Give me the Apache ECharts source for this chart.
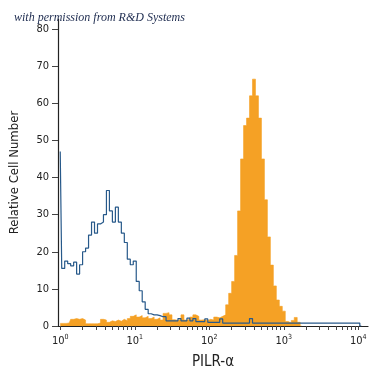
<!DOCTYPE html>
<html>
<head>
<meta charset="utf-8">
<script src="https://cdn.jsdelivr.net/npm/echarts@6/dist/echarts.min.js"></script>
<style>
html,body{margin:0;padding:0;background:#fff;}
#chart{width:375px;height:375px;}
</style>
</head>
<body>
<div id="chart"></div>
<script>
// Histogram channels: log10(PILR-α fluorescence), regular bins
const binStart = 0;
const binWidth = 0.04;

// Isotype control (blue outline)
const isotypeCounts = [
  47, 15.5, 17.5, 16.8, 16.2, 17.2, 14, 16.5, 20, 21,
  24.5, 28, 25, 27.5, 28, 30, 36.5, 31, 28, 32,
  28, 25, 22.5, 18, 16.5, 17.5, 12, 9.5, 6.5, 4.5,
  3.3, 3.0, 3.0, 2.8, 2.5, 2.5, 1.4, 1.4, 1.4, 1.4,
  2.0, 1.4, 1.4, 2.1, 1.4, 2.0, 1.2, 1.2, 1.2, 1.9,
  1.0, 1.0, 1.0, 1.0, 1.9, 0.8, 0.8, 0.8, 0.8, 0.8,
  0.8, 0.8, 0.8, 0.8, 2.0, 0.8, 0.8, 0.8, 0.8, 0.8,
  0.8, 0.8, 0.8, 0.8, 0.8, 0.8, 0.8, 0.8, 0.8, 0.8,
  0.8, 0.8, 0.8, 0.8, 0.8, 0.8, 0.8, 0.8, 0.8, 0.8,
  0.8, 0.8, 0.8, 0.8, 0.8, 0.8, 0.8, 0.8, 0.8, 0.8,
  0.8, 0
];

// Anti-PILR-α stained cells (orange filled)
const stainedCounts = [
  0.7, 0.7, 0.7, 0.8, 1.8, 2.0, 1.8, 2.0, 1.6, 0.6,
  0.6, 0.6, 0.6, 0.8, 1.8, 1.6, 1.0, 1.4, 1.2, 1.6,
  1.3, 1.8, 1.4, 2.0, 2.6, 3.0, 2.4, 2.8, 2.2, 2.6,
  2.0, 2.4, 1.8, 2.2, 1.6, 3.4, 3.6, 3.0, 1.7, 1.5,
  1.8, 3.0, 1.6, 1.8, 2.4, 3.0, 2.6, 1.6, 1.7, 1.5,
  1.8, 1.6, 2.4, 2.2, 2.6, 3.0, 5.7, 8.8, 12, 19,
  31, 45, 54, 56, 62, 66.5, 62, 56, 45, 34,
  24, 16.4, 10.8, 7, 5.3, 4, 1.2, 0.8, 1.5, 2.3,
  1.0, 0
];

const xMajorExponents = [0, 1, 2, 3, 4];
const xMinorMultipliers = [2, 3, 4, 5, 6, 7, 8, 9];
const yTickValues = [0, 10, 20, 30, 40, 50, 60, 70, 80];

const titleText = 'with permission from R&D Systems';
const xAxisTitle = 'PILR-α';
const yAxisTitle = 'Relative Cell Number';

const toPairs = arr => arr.map((v, i) => [binStart + i * binWidth, v]);

const xTickPositions = [];
xMajorExponents.forEach(e => {
  xTickPositions.push(e);
  if (e < 4) xMinorMultipliers.forEach(m => xTickPositions.push(e + Math.log10(m)));
});

const narrow = "'DejaVu Sans Condensed', 'Liberation Sans Narrow', sans-serif";
const chart = echarts.init(document.getElementById('chart'), null, {renderer: 'canvas'});
chart.setOption({
  animation: false,
  backgroundColor: '#ffffff',
  title: {
    text: titleText,
    left: 9, top: 7,
    textStyle: {fontFamily: "'Liberation Serif', 'DejaVu Serif', serif", fontStyle: 'italic', fontWeight: 'normal', fontSize: 12, color: '#1d2b4f'}
  },
  grid: {left: 55, right: 7, top: 19, bottom: 46, containLabel: false},
  xAxis: {
    type: 'value',
    min: -0.03, max: 4.13,
    name: xAxisTitle,
    nameLocation: 'middle',
    nameGap: 29,
    nameTextStyle: {fontFamily: narrow, fontSize: 15, color: '#222'},
    axisLine: {show: true, onZero: false, lineStyle: {color: '#222', width: 1.2}},
    axisTick: {show: true, customValues: xTickPositions, length: 4, inside: false, lineStyle: {color: '#444', width: 1}},
    axisLabel: {
      customValues: xMajorExponents,
      margin: 8,
      formatter: v => '{b|10}{s|' + v + '}',
      rich: {
        b: {fontFamily: narrow, fontSize: 11, color: '#222', verticalAlign: 'bottom'},
        s: {fontFamily: narrow, fontSize: 7, color: '#222', verticalAlign: 'top', padding: [0, 0, 6, 0]}
      }
    },
    splitLine: {show: false}
  },
  yAxis: {
    type: 'value',
    min: 0, max: 82.7,
    name: yAxisTitle,
    nameLocation: 'middle',
    nameGap: 37,
    nameRotate: 90,
    nameTextStyle: {fontFamily: narrow, fontSize: 13, color: '#222'},
    axisLine: {show: true, onZero: false, lineStyle: {color: '#222', width: 1.2}},
    axisTick: {show: true, customValues: yTickValues, length: 6, lineStyle: {color: '#444'}},
    axisLabel: {customValues: yTickValues, margin: 9, fontFamily: narrow, fontSize: 11, color: '#222'},
    splitLine: {show: false}
  },
  series: [
    {
      type: 'line',
      data: toPairs(stainedCounts),
      step: 'middle',
      symbol: 'none',
      lineStyle: {width: 0.6, color: '#f5a125'},
      areaStyle: {color: '#f5a125', opacity: 1},
      z: 2
    },
    {
      type: 'line',
      data: toPairs(isotypeCounts),
      step: 'middle',
      symbol: 'none',
      lineStyle: {width: 1.2, color: '#27598a'},
      z: 3
    }
  ]
});
</script>
</body>
</html>
